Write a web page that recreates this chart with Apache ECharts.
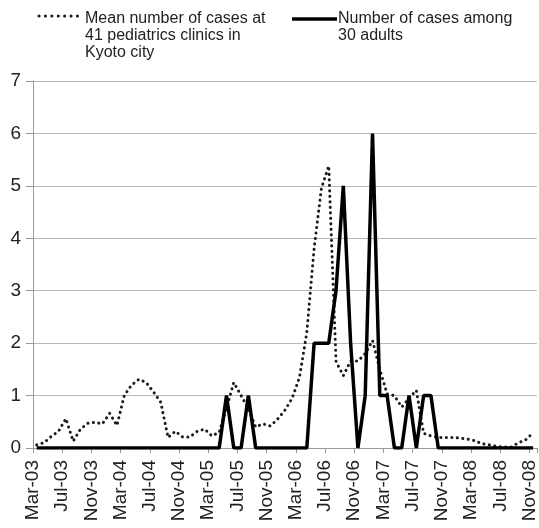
<!DOCTYPE html>
<html>
<head>
<meta charset="utf-8">
<script src="https://cdn.jsdelivr.net/npm/echarts@6/dist/echarts.min.js"></script>
<style>
  html, body { margin: 0; padding: 0; background: #fff; }
  #chart { width: 539px; height: 528px; }
</style>
</head>
<body>
<div id="chart"></div>
<script>
// tick labels, one every 4 months starting Mar-03
const tickLabels = ['Mar-03', 'Jul-03', 'Nov-03', 'Mar-04', 'Jul-04', 'Nov-04', 'Mar-05', 'Jul-05', 'Nov-05',
  'Mar-06', 'Jul-06', 'Nov-06', 'Mar-07', 'Jul-07', 'Nov-07', 'Mar-08', 'Jul-08', 'Nov-08']

// monthly values, Mar-03 .. Nov-08 (69 months)
const pediatricMean = [
  0.06, 0.1, 0.22, 0.32, 0.56, 0.13, 0.36, 0.47, 0.49, 0.46,
  0.66, 0.43, 1.0, 1.2, 1.31, 1.25, 1.07, 0.87, 0.2, 0.32,
  0.21, 0.21, 0.32, 0.36, 0.23, 0.3, 0.75, 1.25, 1.0, 0.75,
  0.4, 0.46, 0.42, 0.55, 0.72, 0.95, 1.35, 2.2, 3.8, 4.95,
  5.38, 1.65, 1.38, 1.66, 1.66, 1.8, 2.05, 1.5, 1.03, 1.0,
  0.78, 0.95, 1.1, 0.28, 0.23, 0.2, 0.2, 0.2, 0.19, 0.17,
  0.14, 0.08, 0.06, 0.03, 0.02, 0.02, 0.1, 0.16, 0.29
]
const adultCases = [
  0, 0, 0, 0, 0, 0, 0, 0, 0, 0,
  0, 0, 0, 0, 0, 0, 0, 0, 0, 0,
  0, 0, 0, 0, 0, 0, 1, 0, 0, 1,
  0, 0, 0, 0, 0, 0, 0, 0, 2, 2,
  2, 3, 5, 2, 0, 1, 6, 1, 1, 0,
  0, 1, 0, 1, 1, 0, 0, 0, 0, 0,
  0, 0, 0, 0, 0, 0, 0, 0, 0
]

const chart = echarts.init(document.getElementById('chart'))
const font = 'Liberation Sans, Arial, sans-serif'

// each month sits in the middle of its slot, ticks mark the month start
const toPoints = arr => arr.map((v, i) => [i + 0.5, v])

const option = {
  animation: false,
  grid: { left: 33, top: 81, width: 507, bottom: 80 },
  xAxis: {
    type: 'value',
    min: 0,
    max: 69,
    interval: 4,
    axisLine: { show: true, onZero: false, lineStyle: { color: '#9a9a9a' } },
    axisTick: { show: true, length: 5, lineStyle: { color: '#9a9a9a' } },
    splitLine: { show: false },
    axisLabel: {
      rotate: 90,
      margin: 12,
      fontFamily: font,
      fontSize: 19,
      color: '#222',
      formatter: v => (v % 4 === 0 ? tickLabels[v / 4] : '')
    }
  },
  yAxis: {
    type: 'value',
    min: 0,
    max: 7,
    interval: 1,
    axisLine: { show: true, lineStyle: { color: '#9a9a9a' } },
    axisTick: { show: true, length: 7, lineStyle: { color: '#9a9a9a' } },
    splitLine: { lineStyle: { color: '#b8b8b8' } },
    axisLabel: { margin: 12, fontFamily: font, fontSize: 19, color: '#222' }
  },
  series: [
    {
      name: 'Mean number of cases at 41 pediatrics clinics in Kyoto city',
      type: 'line',
      data: toPoints(pediatricMean),
      symbol: 'none',
      lineStyle: { color: '#1a1a1a', width: 3, type: [0.1, 5.4], cap: 'round' }
    },
    {
      name: 'Number of cases among 30 adults',
      type: 'line',
      data: toPoints(adultCases),
      symbol: 'none',
      lineStyle: { color: '#000', width: 3.5 }
    }
  ],
  graphic: [
    { type: 'line', shape: { x1: 39, y1: 16, x2: 78, y2: 16 },
      style: { stroke: '#1a1a1a', lineWidth: 3, lineDash: [0.1, 6.3], lineCap: 'round' } },
    { type: 'text', x: 85, y: 10,
      style: { text: 'Mean number of cases at\n41 pediatrics clinics in\nKyoto city', font: '16px ' + font,
        lineHeight: 17, fill: '#222', verticalAlign: 'top' } },
    { type: 'line', shape: { x1: 292, y1: 19, x2: 337, y2: 19 },
      style: { stroke: '#000', lineWidth: 3.5 } },
    { type: 'text', x: 338, y: 10,
      style: { text: 'Number of cases among\n30 adults', font: '16px ' + font,
        lineHeight: 17, fill: '#222', verticalAlign: 'top' } }
  ]
}

chart.setOption(option)
</script>
</body>
</html>
